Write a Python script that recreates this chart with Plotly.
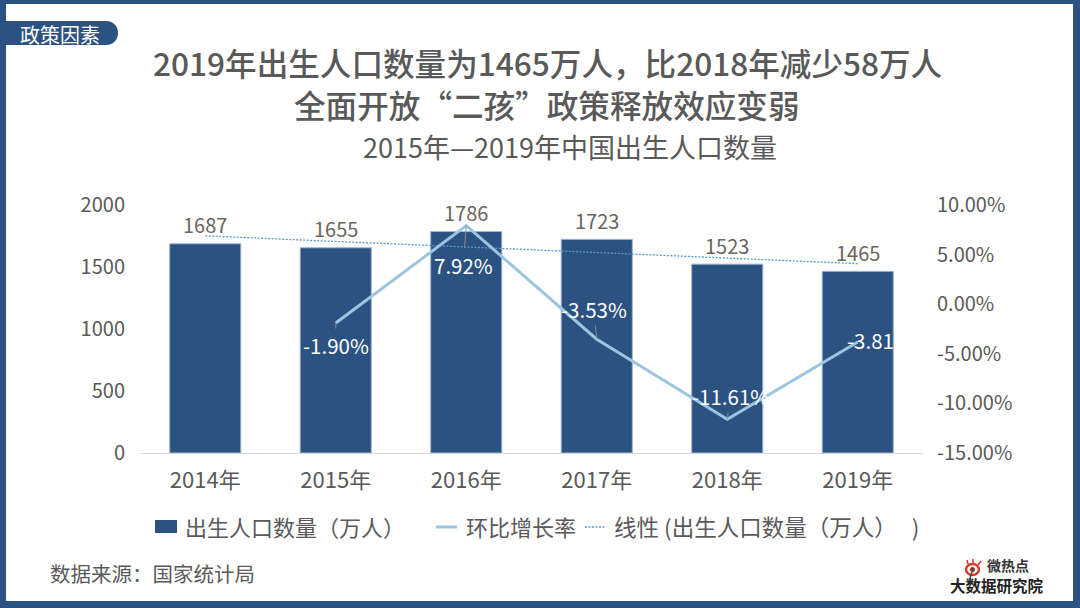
import plotly.graph_objects as go

categories = ["2014年", "2015年", "2016年", "2017年", "2018年", "2019年"]
births = [1687, 1655, 1786, 1723, 1523, 1465]
growth_years = ["2015年", "2016年", "2017年", "2018年", "2019年"]
growth = [-1.90, 7.92, -3.53, -11.61, -3.81]
trend_years = ["2014年", "2019年"]
trend = [1751, 1527]
left_ticks = [0, 500, 1000, 1500, 2000]
right_ticks = [-15, -10, -5, 0, 5, 10]
right_labels = ["-15.00%", "-10.00%", "-5.00%", "0.00%", "5.00%", "10.00%"]

W, H = 1080, 608
L, R, T, B = 140, 157, 205, 155
FONT = "Noto Sans CJK SC"
NAVY = "#2c5282"
LINE = "#9cc6e0"
DOT = "#5a9bc8"

def px(x):
    return (x - L) / (W - L - R)

def py(y):
    return 1 - (y - T) / (H - T - B)

def text(x, y, s, size, color="#595959", xanchor="center", weight=400):
    return dict(xref="paper", yref="paper", x=px(x), y=py(y), text=s, showarrow=False,
                xanchor=xanchor, yanchor="middle",
                font=dict(family=FONT, size=size, color=color, weight=weight))

def box(x0, y0, x1, y1, color=NAVY):
    return dict(type="rect", xref="paper", yref="paper", x0=px(x0), x1=px(x1), y0=py(y0), y1=py(y1),
                line=dict(width=0), fillcolor=color, layer="above")

def seg(x0, y0, x1, y1, color, width, dash="solid"):
    return dict(type="line", xref="paper", yref="paper", x0=px(x0), x1=px(x1), y0=py(y0), y1=py(y1),
                line=dict(color=color, width=width, dash=dash))

TREND_DASH = "2px,1.5px"

fig = go.Figure()
fig.add_bar(x=categories, y=births, name="出生人口数量（万人）", width=0.545,
            marker=dict(color=NAVY, line=dict(color="#9fb6d2", width=1)))
fig.add_scatter(x=growth_years, y=growth, name="环比增长率", mode="lines", yaxis="y2",
                line=dict(color=LINE, width=3))
fig.add_scatter(x=trend_years, y=trend, name="线性 (出生人口数量（万人）)", mode="lines",
                line=dict(color=DOT, width=1.3, dash=TREND_DASH))

annotations = []
for c, v in zip(categories, births):
    annotations.append(dict(x=c, y=v, xref="x", yref="y", text=str(v), showarrow=False,
                            yanchor="middle", yshift=19,
                            font=dict(family=FONT, size=20, color="#6b655c")))

label_offsets = [(0, 22), (-3, 39), (-3, -30), (3, -23), (22, 0)]
for yr, v, (dx, dy) in zip(growth_years, growth, label_offsets):
    has_leader = dy != 0
    annotations.append(dict(
        x=yr, y=v, xref="x", yref="y2", text=f"{v:.2f}%", showarrow=has_leader,
        ax=dx, ay=dy, arrowhead=0, arrowwidth=1, arrowcolor="#8a8a8a",
        xshift=dx if not has_leader else 0, yshift=2 if not has_leader else 0,
        font=dict(family=FONT, size=20.5, color="white")))

annotations += [
    text(60, 34, "政策因素", 20, "white"),
    text(547, 62, "2019年出生人口数量为1465万人，比2018年减少58万人", 31.6, weight=500),
    text(547, 104, "全面开放“二孩”政策释放效应变弱", 31.6, weight=500),
    text(570, 146, "2015年—2019年中国出生人口数量", 27),
    text(48, 573, "数据来源：国家统计局", 20.5, xanchor="left"),
    text(1008, 565, "微热点", 14, "#333333", weight=700),
    text(997, 585, "大数据研究院", 15.5, "#222222", weight=700),
    text(183, 525.5, "出生人口数量（万人）", 22, xanchor="left"),
    text(464, 525.5, "环比增长率", 22, xanchor="left"),
    text(612, 525.5, "线性 (出生人口数量（万人）\u00a0\u00a0\u00a0)", 22.5, xanchor="left"),
]

shapes = [
    box(0, 0, W, 4), box(0, 601, W, H), box(0, 0, 6, H), box(1073, 0, W, H),
    dict(type="path", xref="paper", yref="paper", fillcolor=NAVY, line=dict(width=0),
         path=f"M {px(6)} {py(21)} L {px(106)} {py(21)} "
              f"C {px(122)} {py(21)} {px(122)} {py(45)} {px(106)} {py(45)} L {px(6)} {py(45)} Z"),
    # legend keys
    box(155, 520, 177, 533),
    seg(436, 527, 457, 527, LINE, 3),
    seg(585, 527, 606, 527, DOT, 1.3, TREND_DASH),
    # logo
    dict(type="circle", xref="paper", yref="paper", x0=px(966), x1=px(979), y0=py(564), y1=py(575),
         line=dict(color="#e0352b", width=2.5), fillcolor="white"),
    dict(type="circle", xref="paper", yref="paper", x0=px(970), x1=px(975), y0=py(567), y1=py(572),
         line=dict(width=0), fillcolor="#7a3b1e"),
    seg(972, 572, 970, 578, "#444444", 1.5),
    seg(968, 564, 967, 560, "#e0352b", 1.5),
    seg(973, 563, 973, 559, "#e0352b", 1.5),
    seg(978, 565, 981, 561, "#e0352b", 1.5),
]

fig.update_layout(
    width=W, height=H, autosize=False, paper_bgcolor="white", plot_bgcolor="white",
    margin=dict(l=L, r=R, t=T, b=B), bargap=0.455,
    font=dict(family=FONT, color="#595959"),
    xaxis=dict(type="category", categoryorder="array", categoryarray=categories,
               showgrid=False, showline=True, linecolor="#d9d9d9", linewidth=1, ticks="",
               ticklabelstandoff=8, tickfont=dict(size=22, color="#595959")),
    yaxis=dict(range=[0, 2000], tickvals=left_ticks, showgrid=False, zeroline=False,
               showline=False, ticks="", ticklabelstandoff=14,
               tickfont=dict(size=20, color="#595959")),
    yaxis2=dict(range=[-15, 10], overlaying="y", side="right", tickvals=right_ticks,
                ticktext=right_labels, showgrid=False, zeroline=False, showline=False,
                ticks="", ticklabelstandoff=13, tickfont=dict(size=20, color="#595959")),
    annotations=annotations, shapes=shapes, showlegend=False,
)

fig.write_html("out.html", post_script="document.body.style.margin='0';",
               config={"displayModeBar": False})
